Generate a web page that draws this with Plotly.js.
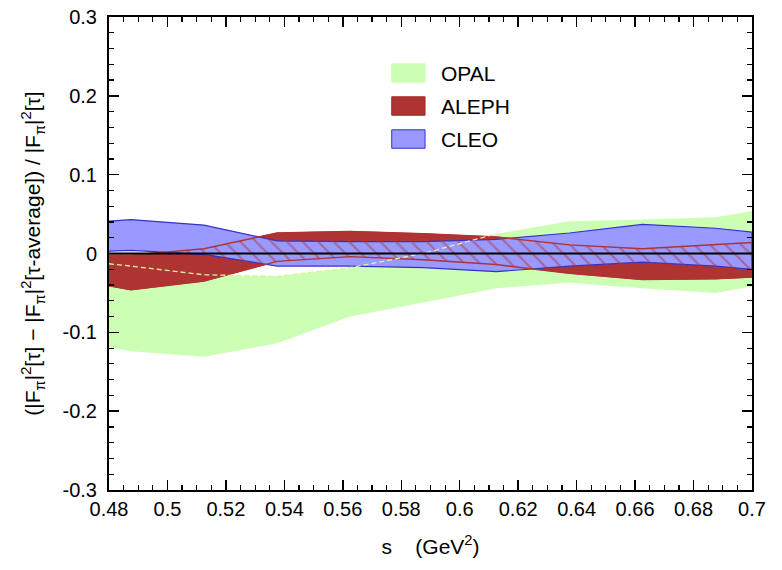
<!DOCTYPE html>
<html><head><meta charset="utf-8">
<script src="https://cdn.plot.ly/plotly-3.0.1.min.js"></script>
<style>html,body{margin:0;padding:0;background:#fff}#chart{width:782px;height:570px}</style>
</head><body><div id="chart"></div>
<script>
// s values (GeV^2) where the bands are sampled
const s = [0.48, 0.4875, 0.5125, 0.5375, 0.5625, 0.5875, 0.6125, 0.6375, 0.6625, 0.6875, 0.7];
// OPAL band
const opalUpper = [-0.013, -0.016, -0.027, -0.029, -0.018, 0.000, 0.025, 0.041, 0.043, 0.046, 0.054];
const opalLower = [-0.119, -0.124, -0.131, -0.114, -0.080, -0.062, -0.044, -0.037, -0.044, -0.050, -0.042];
// ALEPH band
const alephUpper = [-0.002, -0.002, 0.006, 0.026, 0.028, 0.025, 0.021, 0.011, 0.006, 0.011, 0.014];
const alephLower = [-0.041, -0.046, -0.035, -0.010, -0.004, -0.008, -0.014, -0.025, -0.033, -0.032, -0.030];
// CLEO band
const cleoUpper = [0.041, 0.043, 0.036, 0.016, 0.015, 0.015, 0.018, 0.026, 0.037, 0.032, 0.027];
const cleoLower = [0.003, 0.004, -0.001, -0.016, -0.016, -0.018, -0.023, -0.016, -0.011, -0.016, -0.020];

const seriesNames = ['OPAL', 'ALEPH', 'CLEO'];
const xTickVals = [0.48, 0.5, 0.52, 0.54, 0.56, 0.58, 0.6, 0.62, 0.64, 0.66, 0.68, 0.7];
const xTickLabels = ['0.48', '0.5', '0.52', '0.54', '0.56', '0.58', '0.6', '0.62', '0.64', '0.66', '0.68', '0.7'];
const yTickVals = [-0.3, -0.2, -0.1, 0, 0.1, 0.2, 0.3];
const yTickLabels = ['-0.3', '-0.2', '-0.1', '0', '0.1', '0.2', '0.3'];

const colors = {
  OPAL: {fill: '#ccffb3', line: '#ccffb3'},
  ALEPH: {fill: '#b03333', line: '#a02a2a'},
  CLEO: {fill: '#9999ff', line: '#3333cc'}
};

function band(x, up, lo) {
  return {x: x.concat(x.slice().reverse()), y: up.concat(lo.slice().reverse())};
}
const opalB = band(s, opalUpper, opalLower);
const alephB = band(s, alephUpper, alephLower);
const cleoB = band(s, cleoUpper, cleoLower);
// part of the OPAL upper edge that lies under the other bands
const nHidden = 7;

const traces = [
  {x: opalB.x, y: opalB.y, type: 'scatter', mode: 'lines', fill: 'toself', name: 'OPAL',
   fillcolor: colors.OPAL.fill, line: {width: 0, color: colors.OPAL.fill}, showlegend: false, hoverinfo: 'skip'},
  {x: alephB.x, y: alephB.y, type: 'scatter', mode: 'lines', fill: 'toself', name: 'ALEPH',
   fillcolor: colors.ALEPH.fill, line: {width: 1, color: colors.ALEPH.fill}, showlegend: false, hoverinfo: 'skip'},
  {x: cleoB.x, y: cleoB.y, type: 'scatter', mode: 'lines', fill: 'toself', name: 'CLEO',
   fillcolor: colors.CLEO.fill, line: {width: 1.2, color: colors.CLEO.line}, showlegend: false, hoverinfo: 'skip'},
  {x: alephB.x, y: alephB.y, type: 'scatter', mode: 'lines', fill: 'toself', name: 'ALEPH hatch',
   fillcolor: 'rgba(0,0,0,0)',
   fillpattern: {shape: '\\', fgcolor: colors.ALEPH.fill, bgcolor: 'rgba(0,0,0,0)', size: 11, solidity: 0.2, fillmode: 'overlay'},
   line: {width: 1.4, color: colors.ALEPH.fill}, showlegend: false, hoverinfo: 'skip'},
  {x: s.slice(0, nHidden), y: opalUpper.slice(0, nHidden), type: 'scatter', mode: 'lines', name: 'OPAL edge',
   line: {width: 1.3, color: '#e2f29a', dash: '5px,3px'}, showlegend: false, hoverinfo: 'skip'}
];

// custom legend (swatch + label)
const shapes = [
  {type: 'line', xref: 'paper', yref: 'y', x0: 0, x1: 1, y0: 0, y1: 0, layer: 'above',
   line: {color: '#000', width: 2}}
];
const annotations = [];
const legX0 = 0.4397, legX1 = 0.4915, legTxt = 0.5132, legY0 = 0.8816, legStep = 0.0698, legH = 0.0195;
seriesNames.forEach((n, i) => {
  const yc = legY0 - i * legStep;
  shapes.push({type: 'rect', xref: 'paper', yref: 'paper', x0: legX0, x1: legX1, y0: yc - legH, y1: yc + legH,
    fillcolor: colors[n].fill, line: {color: colors[n].line, width: 1}, layer: 'above'});
  annotations.push({xref: 'paper', yref: 'paper', x: legTxt, y: yc, text: n, showarrow: false,
    xanchor: 'left', yanchor: 'middle', font: {size: 21, color: '#000'}});
});

const axisCommon = {
  showline: true, linecolor: '#000', linewidth: 2, mirror: 'allticks',
  ticks: 'inside', ticklen: 10, tickwidth: 1.5, tickcolor: '#000',
  showgrid: false, zeroline: false, tickmode: 'array',
  tickfont: {size: 20, color: '#000'}
};

const layout = {
  width: 782, height: 570,
  margin: {l: 109, r: 30, t: 17, b: 80},
  paper_bgcolor: '#fff', plot_bgcolor: '#fff',
  font: {family: '"Liberation Sans", Arial, sans-serif', color: '#000'},
  showlegend: false,
  xaxis: Object.assign({}, axisCommon, {
    range: [0.48, 0.7], tickvals: xTickVals, ticktext: xTickLabels,
    minor: {tickmode: 'linear', tick0: 0.48, dtick: 0.005, ticks: 'inside', ticklen: 5, tickwidth: 1.2, tickcolor: '#000'},
    title: {text: 's&nbsp;&nbsp;&nbsp;&nbsp;(GeV<sup>2</sup>)', font: {size: 21}, standoff: 20}
  }),
  yaxis: Object.assign({}, axisCommon, {
    range: [-0.3, 0.3], tickvals: yTickVals, ticktext: yTickLabels,
    minor: {tickmode: 'linear', tick0: -0.3, dtick: 0.02, ticks: 'inside', ticklen: 5, tickwidth: 1.2, tickcolor: '#000'},
    ticklabelstandoff: 6,
    title: {text: '(|F<sub>π</sub>|<sup>2</sup>[τ] − |F<sub>π</sub>|<sup>2</sup>[τ-average]) / |F<sub>π</sub>|<sup>2</sup>[τ]', font: {size: 21}, standoff: 16}
  }),
  shapes: shapes,
  annotations: annotations
};

Plotly.newPlot('chart', traces, layout, {staticPlot: true, displayModeBar: false});
</script>
</body></html>
